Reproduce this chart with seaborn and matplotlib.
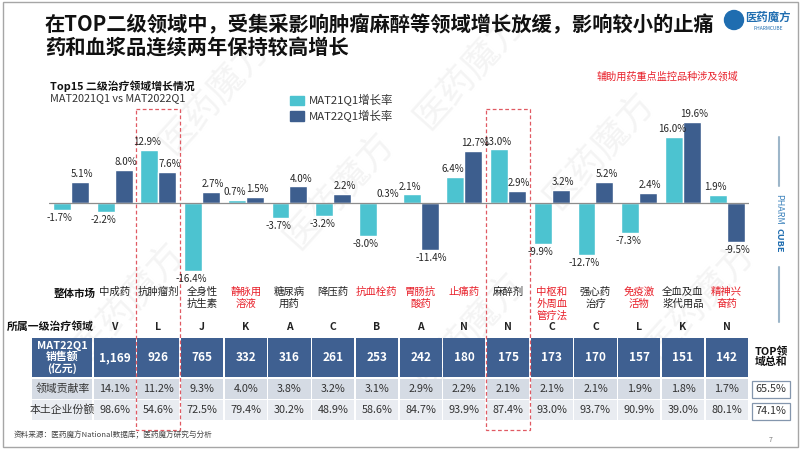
import matplotlib
matplotlib.use("Agg")
import matplotlib.pyplot as plt
from matplotlib.patches import Rectangle, Circle, Patch
import seaborn as sns
import pandas as pd

# ---------------- data ----------------
categories = ['整体市场', '中成药', '抗肿瘤剂', '全身性抗生素', '静脉用溶液', '糖尿病用药', '降压药',
              '抗血栓药', '胃肠抗酸药', '止痛药', '麻醉剂', '中枢和外周血管疗法', '强心药治疗',
              '免疫激活物', '全血及血浆代用品', '精神兴奋药']
cat_labels = ['整体市场', '中成药', '抗肿瘤剂', '全身性\n抗生素', '静脉用\n溶液', '糖尿病\n用药', '降压药',
              '抗血栓药', '胃肠抗\n酸药', '止痛药', '麻醉剂', '中枢和\n外周血\n管疗法', '强心药\n治疗',
              '免疫激\n活物', '全血及血\n浆代用品', '精神兴\n奋药']
red_cats = ['静脉用溶液', '抗血栓药', '胃肠抗酸药', '止痛药', '中枢和外周血管疗法', '免疫激活物', '精神兴奋药']
growth_21 = [-1.7, -2.2, 12.9, -16.4, 0.7, -3.7, -3.2, -8.0, 2.1, 6.4, 13.0, -9.9, -12.7, -7.3, 16.0, 1.9]
growth_22 = [5.1, 8.0, 7.6, 2.7, 1.5, 4.0, 2.2, 0.3, -11.4, 12.7, 2.9, 3.2, 5.2, 2.4, 19.6, -9.5]
series = ['MAT21Q1增长率', 'MAT22Q1增长率']
level1 = ['V', 'L', 'J', 'K', 'A', 'C', 'B', 'A', 'N', 'N', 'C', 'C', 'L', 'K', 'N']
sales = ['1,169', '926', '765', '332', '316', '261', '253', '242', '180', '175', '173', '170', '157', '151', '142']
contrib = ['14.1%', '11.2%', '9.3%', '4.0%', '3.8%', '3.2%', '3.1%', '2.9%', '2.2%', '2.1%', '2.1%',
           '2.1%', '1.9%', '1.8%', '1.7%']
local_share = ['98.6%', '54.6%', '72.5%', '79.4%', '30.2%', '48.9%', '58.6%', '84.7%', '93.9%', '87.4%',
               '93.0%', '93.7%', '90.9%', '39.0%', '80.1%']
totals = ['65.5%', '74.1%']
highlight = ['抗肿瘤剂', '麻醉剂']

title = '在TOP二级领域中，受集采影响肿瘤麻醉等领域增长放缓，影响较小的止痛\n药和血浆品连续两年保持较高增长'

CYAN = '#4cc3d0'
NAVY = '#3d5e8e'
HEAD = '#3f6091'
ROW2 = '#d5dbe4'
ROW3 = '#e9ecf1'
RED = '#e8202a'

sns.set_theme(style='white')
plt.rcParams['font.family'] = ['Noto Sans CJK SC', 'DejaVu Sans']
plt.rcParams['axes.unicode_minus'] = False

W, H = 802, 451
fig = plt.figure(figsize=(W / 100, H / 100), dpi=100)
fig.patch.set_facecolor('white')

# overlay axes in pixel coords (y down)
ov = fig.add_axes([0, 0, 1, 1], zorder=0)
ov.set_xlim(0, W)
ov.set_ylim(H, 0)
ov.axis('off')

# faint watermarks
for (wx, wy) in [(215, 95), (340, 190), (130, 300), (470, 330), (600, 150), (700, 300), (470, 70)]:
    ov.text(wx, wy, '医药魔方', fontsize=26, rotation=48, color='#f4f4f4', ha='center', va='center',
            zorder=0)

# ---------------- bar chart ----------------
y0, ppu = 203, 4.13
top_px, bot_px = 115, 285
ax = fig.add_axes([49 / W, 1 - bot_px / H, 699.5 / W, (bot_px - top_px) / H], zorder=2)
ax.patch.set_alpha(0)
df = pd.DataFrame({
    'cat': categories * 2,
    'series': [series[0]] * len(categories) + [series[1]] * len(categories),
    'val': growth_21 + growth_22,
})
sns.barplot(data=df, x='cat', y='val', hue='series', order=categories, hue_order=series,
            palette=[CYAN, NAVY], width=0.82, ax=ax, saturation=1, legend=False)
ax.set_xlim(-0.5, len(categories) - 0.5)
ax.set_ylim(-(bot_px - y0) / ppu, (y0 - top_px) / ppu)
ax.axhline(0, color='#8c8c8c', lw=0.9, zorder=3)
for k, c in enumerate(ax.containers):
    anns = ax.bar_label(c, fmt='%.1f%%', fontsize=7.0, padding=2, color='#262626')
    shift = -1.6 if k == 0 else 1.6
    for a in anns:
        a.xyann = (a.xyann[0] + shift, a.xyann[1])
ax.set_xticks([])
ax.set_yticks([])
ax.set_xlabel('')
ax.set_ylabel('')
for s in ax.spines.values():
    s.set_visible(False)

def px_of(i):
    dx, _ = ax.transData.transform((i, 0))
    return dx
centers = [px_of(i) for i in range(len(categories))]
colw = centers[1] - centers[0]

# legend
ax.legend(handles=[Patch(color=CYAN, label=series[0]), Patch(color=NAVY, label=series[1])],
          loc='upper left', bbox_to_anchor=(280 / W, 1 - 84 / H), bbox_transform=fig.transFigure,
          frameon=False, fontsize=8.2, handlelength=1.2, handleheight=0.9, handletextpad=0.4,
          labelspacing=0.3, labelcolor='#333333')

# ---------------- texts ----------------
ov.text(45, 14, title, fontsize=14.6, fontweight='bold', color='#111111', va='top', ha='left',
        linespacing=1.12, zorder=5)
ov.text(50, 86, 'Top15 二级治疗领域增长情况', fontsize=7.8, fontweight='bold', color='#111111',
        va='center', zorder=5)
ov.text(50, 98, 'MAT2021Q1 vs MAT2022Q1', fontsize=7.8, color='#333333', va='center', zorder=5)
ov.text(667, 77, '辅助用药重点监控品种涉及领域', fontsize=7.3, color=RED, va='center', ha='center', zorder=5)

# logo
ov.add_patch(Circle((734, 20), 9.5, color='#1f6db0', zorder=6))
ov.text(768, 17, '医药魔方', fontsize=8.2, fontweight='bold', color='#1f6db0', ha='center', va='center', zorder=6)
ov.text(768, 28, 'PHARMCUBE', fontsize=3.5, color='#1f6db0', ha='center', va='center', zorder=6)

# vertical brand
ov.plot([779, 779], [137, 186], color='#9db6c9', lw=1.5, zorder=4)
ov.plot([779, 779], [267, 322], color='#9db6c9', lw=1.5, zorder=4)
ov.text(779, 194, 'PHARM', fontsize=6.5, color='#3f84bd', rotation=270, ha='center', va='top', zorder=4)
ov.text(779, 228, 'CUBE', fontsize=6.5, fontweight='bold', color='#1f6db0', rotation=270, ha='center',
        va='top', zorder=4)

# category labels
for i, (cx, lab, name) in enumerate(zip(centers, cat_labels, categories)):
    if i == 0:
        ov.text(75, 294, lab, fontsize=7.6, fontweight='bold', color='#111111', ha='center', va='center', zorder=5)
        continue
    col = RED if name in red_cats else '#222222'
    ov.text(cx, 287, lab, fontsize=7.5, color=col, ha='center', va='top', linespacing=1.2, zorder=5)

ov.text(50, 327, '所属一级治疗领域', fontsize=7.8, fontweight='bold', color='#111111', ha='center',
        va='center', zorder=5)
for cx, l in zip(centers[1:], level1):
    ov.text(cx, 327, l, fontsize=7.5, fontweight='bold', color='#222222', ha='center', va='center', zorder=5)

# table
rows = [(338, 377, HEAD), (379, 399, ROW2), (400, 420, ROW3)]
hx0 = 32
for (ya, yb, colr) in rows:
    ov.add_patch(Rectangle((hx0, ya), centers[0] + colw / 2 - hx0 - 1, yb - ya, color=colr, lw=0, zorder=3))
    for cx in centers[1:]:
        ov.add_patch(Rectangle((cx - colw / 2 + 0.8, ya), colw - 1.6, yb - ya, color=colr, lw=0, zorder=3))
hcx = (hx0 + centers[0] + colw / 2) / 2
ov.text(hcx, 357.5, 'MAT22Q1\n销售额\n(亿元)', fontsize=7.8, fontweight='bold', color='white',
        ha='center', va='center', linespacing=1.05, zorder=5)
ov.text(hcx, 389, '领域贡献率', fontsize=7.8, color='#333333', ha='center', va='center', zorder=5)
ov.text(hcx, 410, '本土企业份额', fontsize=7.8, color='#333333', ha='center', va='center', zorder=5)
for cx, s, c, l in zip(centers[1:], sales, contrib, local_share):
    ov.text(cx, 357.5, s, fontsize=8.5, fontweight='bold', color='white', ha='center', va='center', zorder=5)
    ov.text(cx, 389, c, fontsize=7.8, color='#333333', ha='center', va='center', zorder=5)
    ov.text(cx, 410, l, fontsize=7.8, color='#333333', ha='center', va='center', zorder=5)

ov.text(771, 357, 'TOP领\n域总和', fontsize=7.8, fontweight='bold', color='#111111', ha='center',
        va='center', linespacing=1.05, zorder=5)
for (yy, t) in zip([389.5, 411], totals):
    ov.add_patch(Rectangle((752, yy - 8.5), 38, 17, fill=False, ec='#8496ad', lw=0.9, zorder=5))
    ov.text(771, yy, t, fontsize=7.8, color='#333333', ha='center', va='center', zorder=6)

# highlighted dashed boxes
for name in highlight:
    i = categories.index(name)
    cx = centers[i]
    ov.add_patch(Rectangle((cx - colw / 2, 109), colw, 430 - 109, fill=False, ec='#e05a63', lw=0.9,
                           ls=(0, (3, 2)), zorder=7))

# source and page number
ov.text(14, 435, '资料来源：医药魔方National数据库；医药魔方研究与分析', fontsize=5.5, color='#444444',
        va='center', zorder=5)
ov.text(771, 440, '7', fontsize=5, color='#777777', va='center', ha='center', zorder=5)

# frame
ov.add_patch(Rectangle((3, 2), 795, 445, fill=False, ec='#a6a6a6', lw=1, zorder=8))

fig.savefig('out.png', dpi=100, facecolor='white')
